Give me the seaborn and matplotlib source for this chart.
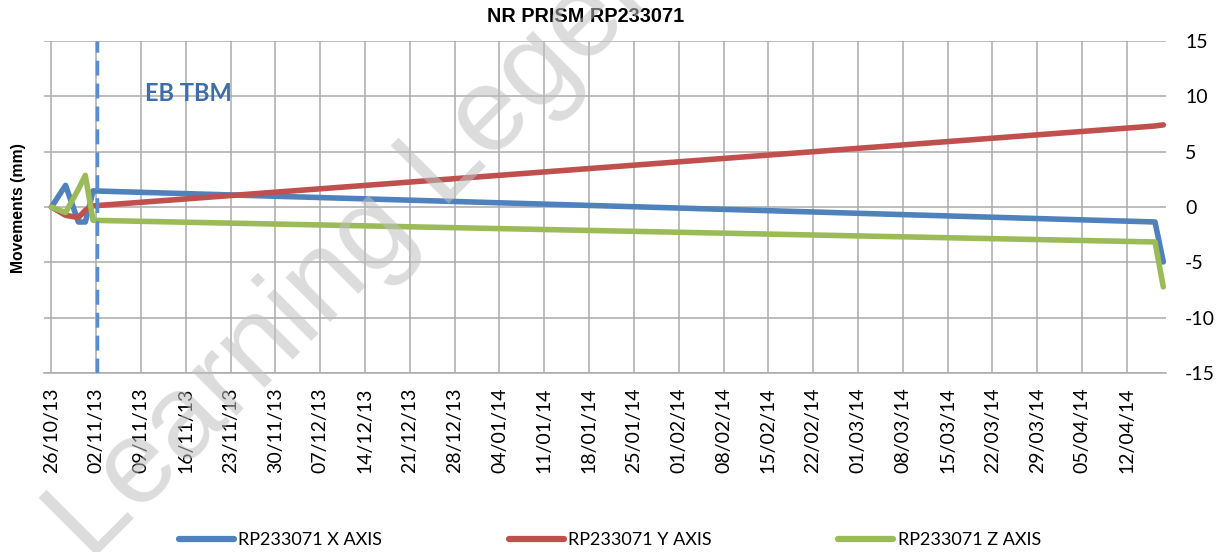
import matplotlib
matplotlib.use("Agg")
import matplotlib.pyplot as plt
import seaborn as sns
import pandas as pd

# ---------------- data ----------------
dates = ["2013-10-26 00:00", "2013-10-28 05:00", "2013-10-30 05:00",
         "2013-10-31 07:00", "2013-11-01 12:00", "2014-04-16 10:00",
         "2014-04-17 17:00"]
x_axis = [0.0, 1.95, -1.35, -1.35, 1.45, -1.35, -4.95]
y_axis = [0.0, -0.75, -0.95, -0.3, 0.1, 7.3, 7.4]
z_axis = [0.0, -0.5, 1.6, 2.85, -1.2, -3.15, -7.2]
series_names = ["RP233071 X AXIS", "RP233071 Y AXIS", "RP233071 Z AXIS"]
colors = ["#4F81BD", "#C0504D", "#9BBB59"]
tick_labels = ["26/10/13", "02/11/13", "09/11/13", "16/11/13", "23/11/13",
               "30/11/13", "07/12/13", "14/12/13", "21/12/13", "28/12/13",
               "04/01/14", "11/01/14", "18/01/14", "25/01/14", "01/02/14",
               "08/02/14", "15/02/14", "22/02/14", "01/03/14", "08/03/14",
               "15/03/14", "22/03/14", "29/03/14", "05/04/14", "12/04/14"]
y_ticks = [-15, -10, -5, 0, 5, 10, 15]
tbm_date = "2013-11-02 03:00"
tbm_label = "EB TBM"
title = "NR PRISM RP233071"
y_label = "Movements (mm)"
watermark = "Learning Legends"

# ---------------- frame ----------------
frames = []
for name, vals in zip(series_names, [x_axis, y_axis, z_axis]):
    frames.append(pd.DataFrame({"date": pd.to_datetime(dates),
                                "value": vals, "series": name}))
df = pd.concat(frames, ignore_index=True)

sns.set_style("white")
plt.rcParams["font.family"] = ["Lato", "DejaVu Sans"]
plt.rcParams["text.color"] = "black"
plt.rcParams["xtick.color"] = "black"
plt.rcParams["ytick.color"] = "black"

fig = plt.figure(figsize=(12.25, 5.52), dpi=100)
ax = fig.add_axes([0.0359, 0.3234, 0.9522 - 0.0359, 0.9266 - 0.3234])

grid_c = "#ABABAB"
ax.set_axisbelow(True)
ax.grid(True, color=grid_c, linewidth=1.1)

sns.lineplot(data=df, x="date", y="value", hue="series", palette=colors,
             hue_order=series_names, linewidth=4.0, estimator=None,
             ax=ax, legend=True)
for ln in ax.get_lines():
    ln.set_solid_capstyle("round")
    ln.set_solid_joinstyle("round")

ax.axvline(pd.Timestamp(tbm_date), color="#558ED5", linewidth=2.5,
           dashes=(4.3, 2.3), zorder=3)

tick_dates = pd.to_datetime(tick_labels, format="%d/%m/%y")
start = tick_dates[0]
ax.set_xlim(start - pd.Timedelta(hours=28), start + pd.Timedelta(days=174.2))
ax.set_xticks(tick_dates)
ax.set_xticklabels(tick_labels, rotation=90, fontsize=14, va="top",
                   ha="center", color="black")
ax.set_ylim(-15, 15)
ax.set_yticks(y_ticks)
ax.set_yticklabels([str(v) for v in y_ticks], fontsize=14, color="black")
ax.yaxis.tick_right()
ax.tick_params(axis="both", length=0)
ax.tick_params(axis="x", pad=10)
ax.tick_params(axis="y", pad=13.5)
ax.set_xlabel("")
ax.set_ylabel("")

for side in ["left", "right", "top"]:
    ax.spines[side].set_visible(False)
ax.spines["bottom"].set_color(grid_c)
ax.spines["bottom"].set_linewidth(1.1)

ax.text(0.09, 0.842, tbm_label, transform=ax.transAxes, ha="left",
        va="center", fontsize=17, fontweight="bold", color="#3E6DA8")

fig.text(586 / 1225, 1 - 17 / 552, title, ha="center", va="center",
         fontsize=14.3, fontweight="bold", color="black",
         family=["Liberation Sans"])
fig.text(18.5 / 1225, 1 - 208 / 552, y_label, ha="center", va="center",
         rotation=90, fontsize=11.3, fontweight="bold", color="black",
         family=["Liberation Sans"])

handles, labels = ax.get_legend_handles_labels()
for h in handles:
    h.set_linewidth(4.5)
leg = ax.legend(handles, labels, loc="center",
                bbox_to_anchor=(0.498, 1 - 540 / 552),
                bbox_transform=fig.transFigure, ncol=3, frameon=False,
                fontsize=13, handlelength=3.05, handletextpad=0.25,
                columnspacing=7.0)
for t in leg.get_texts():
    t.set_color("black")

fig.text(90 / 1225, -10 / 552, watermark, rotation=45, rotation_mode="anchor",
         ha="left", va="baseline", fontsize=86, color="#BFBFBF", alpha=0.55,
         family=["Liberation Sans"], zorder=10)

fig.savefig("out.png", dpi=100)
